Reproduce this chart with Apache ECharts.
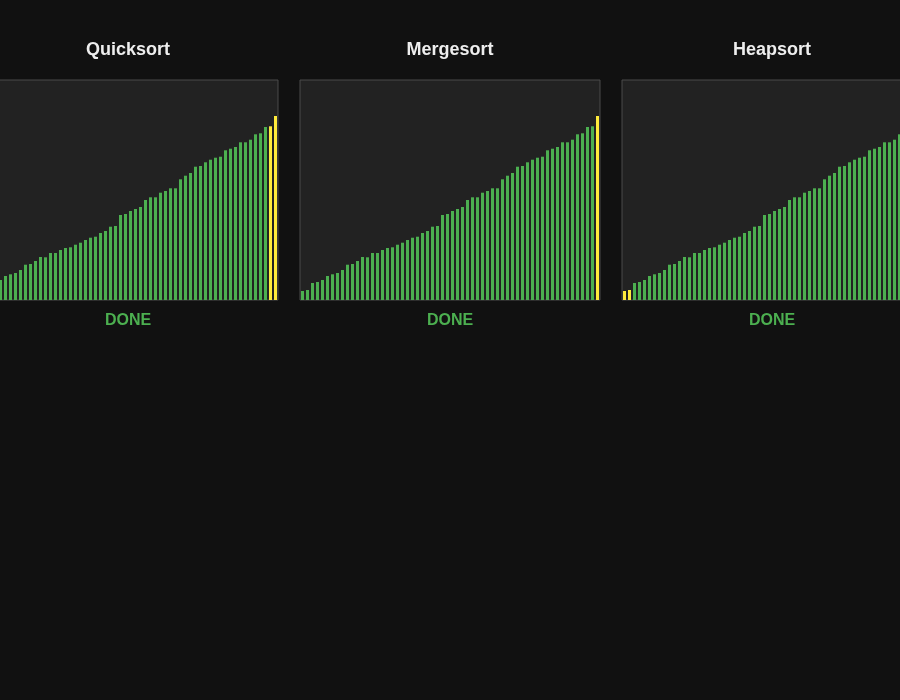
<!DOCTYPE html>
<html>
<head>
<meta charset="utf-8">
<script src="https://cdn.jsdelivr.net/npm/echarts@6/dist/echarts.min.js"></script>
<style>
html,body{margin:0;padding:0;background:#111;overflow:hidden;width:900px;height:700px;}
#c{width:944px;height:700px;margin-left:-22px;}
</style>
</head>
<body>
<div id="c"></div>
<script>
// Sorted array values (bar heights)
var values = [9,10,17,18,20,24,25.7,27,30,35.3,36,39,43,42.7,47,47,50,52,52.7,55.3,
  57.3,60,62.3,63.3,67,69,73.3,74,85,86,89,91,93,100,102.7,102.7,107.3,109,111.7,111.7,
  120.7,124.3,127,133.3,134,137.7,140.3,142.3,143.3,149.7,151.3,153,157.7,157.7,160.3,165.7,166.7,173,173.7,184];
var algorithms = ["Quicksort", "Mergesort", "Heapsort"];
var statuses = ["DONE", "DONE", "DONE"];
var highlighted = [[58, 59], [59], [0, 1]];
var yMax = 220;

var categories = values.map(function(_, i){ return i; });
var panelLefts = [0, 322, 644];
var panelW = 300, panelTop = 80, panelH = 220;

var grids = [], xAxes = [], yAxes = [], series = [], graphics = [];
algorithms.forEach(function(name, k){
  grids.push({left: panelLefts[k], top: panelTop, width: panelW, height: panelH,
    show: true, backgroundColor: '#222', borderColor: '#4a4a4a', borderWidth: 1});
  xAxes.push({type: 'category', gridIndex: k, data: categories, show: false, boundaryGap: true});
  yAxes.push({type: 'value', gridIndex: k, min: 0, max: yMax, show: false});
  series.push({type: 'bar', xAxisIndex: k, yAxisIndex: k, barWidth: 3, animation: false,
    data: values.map(function(v, i){
      return {value: v, itemStyle: {color: highlighted[k].indexOf(i) >= 0 ? '#ffeb3b' : '#4caf50'}};
    })});
  var cx = panelLefts[k] + panelW / 2;
  graphics.push({type: 'text', x: cx, y: 50, style: {text: name, fill: '#eeeeee',
    font: 'bold 18px "Liberation Sans", Arial, sans-serif', textAlign: 'center', textVerticalAlign: 'middle'}});
  graphics.push({type: 'text', x: cx, y: 321, style: {text: statuses[k], fill: '#4caf50',
    font: 'bold 16px "Liberation Sans", Arial, sans-serif', textAlign: 'center', textVerticalAlign: 'middle'}});
});

var chart = echarts.init(document.getElementById('c'), null, {renderer: 'canvas'});
chart.setOption({
  backgroundColor: '#111',
  animation: false,
  grid: grids, xAxis: xAxes, yAxis: yAxes, series: series, graphic: graphics
});
</script>
</body>
</html>
